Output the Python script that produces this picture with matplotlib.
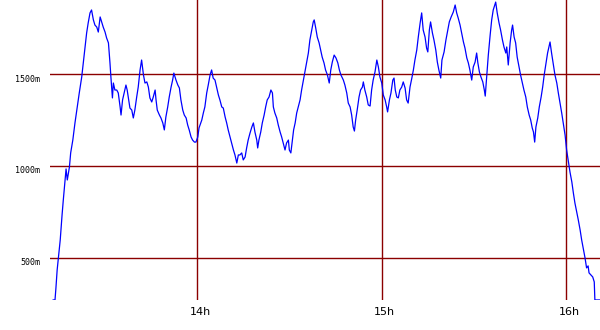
"""Redraw of an rrd-style line graph: one series, dark red grid, 13:12 to 16:11."""

import matplotlib

matplotlib.use("Agg")
import matplotlib.pyplot as plt
from matplotlib.transforms import ScaledTranslation

# minutes after 13:00
TIME_MIN = [
    13.0, 13.6, 13.9, 14.3, 14.7, 15.3, 15.9, 16.3, 16.9, 17.2, 17.6, 18.3, 18.7, 19.4,
    20.1, 20.7, 21.5, 22.3, 22.8, 23.4, 23.9, 24.4, 25.0, 25.5, 26.1, 26.6, 27.2, 27.7,
    28.3, 28.8, 29.3, 29.9, 30.4, 31.0, 31.5, 31.8, 32.3, 32.6, 33.1, 33.7, 34.2, 34.8,
    35.1, 35.6, 36.1, 36.7, 37.1, 37.6, 38.0, 38.6, 39.1, 39.6, 40.2, 40.7, 41.3, 41.8,
    42.4, 42.9, 43.5, 44.0, 44.5, 45.1, 45.6, 46.2, 46.5, 46.9, 47.6, 48.1, 48.7, 49.2,
    49.7, 50.3, 50.8, 51.4, 51.9, 52.3, 53.0, 53.6, 54.1, 54.6, 55.2, 55.7, 56.3, 56.8,
    57.3, 57.9, 58.4, 59.0, 59.5, 60.1, 60.5, 61.4, 61.9, 62.4, 63.0, 63.5, 64.1, 64.6,
    65.1, 65.7, 66.3, 66.8, 67.3, 67.9, 68.4, 69.0, 69.5, 70.0, 70.6, 71.1, 71.7, 72.2,
    72.8, 73.3, 73.8, 74.4, 74.9, 75.5, 76.0, 76.5, 77.1, 77.7, 78.2, 78.7, 79.3, 79.6,
    80.0, 80.6, 81.1, 81.7, 82.2, 82.7, 83.3, 83.9, 84.4, 84.7, 85.2, 85.8, 86.3, 86.9,
    87.4, 87.9, 88.5, 89.0, 89.6, 89.9, 90.4, 90.9, 91.3, 91.8, 92.3, 92.8, 93.4, 93.9,
    94.5, 95.0, 95.6, 96.1, 96.6, 97.2, 97.7, 98.0, 98.5, 99.0, 99.6, 100.1, 100.6, 101.2,
    101.7, 102.3, 102.9, 103.4, 103.9, 104.5, 105.1, 105.7, 106.2, 106.7, 107.5, 108.0,
    108.6, 109.1, 109.7, 110.2, 110.7, 111.1, 111.5, 112.0, 112.6, 113.1, 113.7, 114.0,
    114.5, 115.1, 115.6, 116.2, 116.7, 117.2, 117.8, 118.4, 118.9, 119.4, 120.0, 120.5,
    121.1, 121.6, 121.9, 122.5, 123.0, 123.6, 124.0, 124.4, 124.9, 125.4, 125.9, 126.5,
    127.0, 127.6, 128.1, 128.6, 129.2, 129.8, 130.3, 130.8, 131.4, 131.9, 132.5, 133.0,
    133.5, 134.1, 134.6, 135.0, 135.5, 135.9, 136.5, 137.0, 137.6, 138.1, 138.6, 139.2,
    139.6, 140.3, 140.9, 141.5, 142.0, 142.6, 143.3, 143.9, 144.4, 144.9, 145.5, 146.0,
    146.6, 147.1, 147.7, 148.2, 148.7, 149.3, 149.8, 150.4, 150.9, 151.3, 151.8, 152.3,
    152.9, 153.4, 153.7, 154.2, 154.7, 155.3, 155.8, 156.3, 157.1, 157.6, 158.2, 158.7,
    159.3, 159.8, 160.4, 160.7, 161.2, 161.8, 162.3, 162.6, 163.1, 163.6, 164.1, 164.7,
    165.2, 165.8, 166.3, 166.9, 167.4, 168.0, 168.5, 169.0, 169.4, 169.8, 170.2, 170.8,
    171.3, 171.9, 172.4, 172.9, 173.5, 174.0, 174.6, 174.8, 175.3, 175.9, 176.4, 177.0,
    177.5, 178.0, 178.6, 179.1, 179.7, 180.2, 180.7, 181.3, 181.9, 182.4, 182.9, 183.5,
    184.0, 184.6, 185.1, 185.6, 186.2, 186.7, 187.2, 187.5, 188.1, 188.7, 189.2, 189.4,
    191.1,
]

# values in milli-units ("1500m" on the axis)
VALUE_M = [
    272, 272, 337, 435, 500, 598, 734, 815, 924, 984, 924, 995, 1071, 1141,
    1234, 1304, 1397, 1484, 1560, 1647, 1723, 1777, 1832, 1848, 1794, 1766, 1755, 1728,
    1810, 1783, 1755, 1728, 1696, 1669, 1560, 1484, 1370, 1451, 1413, 1413, 1397, 1321,
    1277, 1359, 1397, 1440, 1413, 1359, 1315, 1304, 1261, 1304, 1375, 1429, 1522, 1576,
    1495, 1451, 1457, 1429, 1370, 1348, 1375, 1413, 1359, 1304, 1277, 1261, 1234, 1196,
    1266, 1321, 1375, 1429, 1467, 1505, 1467, 1440, 1424, 1359, 1304, 1277, 1261, 1223,
    1196, 1158, 1141, 1130, 1130, 1158, 1207, 1250, 1288, 1321, 1397, 1440, 1495, 1522,
    1478, 1467, 1424, 1386, 1359, 1321, 1315, 1266, 1234, 1196, 1158, 1125, 1087, 1060,
    1016, 1060, 1060, 1071, 1033, 1049, 1098, 1141, 1179, 1212, 1234, 1185, 1141, 1098,
    1141, 1185, 1234, 1277, 1321, 1359, 1375, 1413, 1397, 1321, 1288, 1261, 1223, 1185,
    1158, 1125, 1087, 1125, 1141, 1087, 1071, 1141, 1196, 1234, 1288, 1321, 1359, 1413,
    1467, 1511, 1565, 1614, 1685, 1739, 1783, 1794, 1750, 1701, 1669, 1630, 1592, 1560,
    1522, 1495, 1451, 1522, 1565, 1603, 1587, 1560, 1522, 1495, 1467, 1440,
    1397, 1342, 1321, 1277, 1212, 1190, 1250, 1304, 1375, 1413, 1429, 1457,
    1413, 1375, 1332, 1326, 1413, 1467, 1511, 1576, 1538, 1484, 1451, 1386,
    1359, 1321, 1294, 1359, 1397, 1467, 1478, 1413, 1375, 1370, 1413, 1429,
    1457, 1424, 1359, 1342, 1429, 1478, 1522, 1576, 1630, 1701, 1777, 1832,
    1739, 1701, 1641, 1620, 1739, 1783, 1723, 1685, 1630, 1565, 1522, 1478,
    1576, 1620, 1685, 1739, 1783, 1810, 1837, 1875, 1832, 1804, 1766, 1723,
    1674, 1641, 1587, 1560, 1522, 1467, 1538, 1565, 1614, 1560, 1511, 1484,
    1457, 1413, 1380, 1495, 1603, 1712, 1794, 1848, 1891, 1832, 1777, 1739,
    1685, 1647, 1614, 1647, 1549, 1669, 1739, 1766, 1701, 1669, 1592, 1538,
    1495, 1451, 1413, 1375, 1321, 1277, 1250, 1207, 1185, 1130, 1212, 1261,
    1321, 1375, 1429, 1495, 1560, 1614, 1658, 1674, 1614, 1549, 1495, 1451,
    1397, 1348, 1288, 1234, 1168, 1087, 1033, 967, 913, 853, 799, 750,
    707, 652, 598, 554, 500, 446, 457, 419, 408, 397, 370, 272,
    272,
]

HOUR_TICKS = [60, 120, 180]
HOUR_LABELS = ["14h", "15h", "16h"]
VALUE_TICKS = [500, 1000, 1500]
VALUE_LABELS = ["500m", "1000m", "1500m"]

X_RANGE = (11.97, 191.07)
Y_RANGE = (271.7, 1902.2)

LINE_COLOR = "#0000ff"
GRID_COLOR = "#8b0000"

fig = plt.figure(figsize=(6.0, 3.3), dpi=100)
ax = fig.add_axes([50 / 600, 30 / 330, 550 / 600, 300 / 330])

ax.plot(TIME_MIN, VALUE_M, color=LINE_COLOR, linewidth=0.9, zorder=3)

ax.set_xlim(*X_RANGE)
ax.set_ylim(*Y_RANGE)
ax.set_xticks(HOUR_TICKS)
ax.set_xticklabels(HOUR_LABELS, fontsize=8, family="DejaVu Sans")
ax.set_yticks(VALUE_TICKS)
ax.set_yticklabels(VALUE_LABELS, fontsize=6, family="DejaVu Sans Mono")
ax.tick_params(axis="both", length=0)
ax.tick_params(axis="x", pad=5)
ax.tick_params(axis="y", pad=7)
ax.grid(True, color=GRID_COLOR, linewidth=1.0, zorder=1)
ax.set_axisbelow(True)
for side in ax.spines.values():
    side.set_visible(False)

# labels sit a little off their grid lines in the original
for label in ax.get_yticklabels():
    label.set_transform(label.get_transform() + ScaledTranslation(0, -4 / 100, fig.dpi_scale_trans))
for label in ax.get_xticklabels():
    label.set_transform(label.get_transform() + ScaledTranslation(3 / 100, 0, fig.dpi_scale_trans))

fig.savefig("out.png", dpi=100)
